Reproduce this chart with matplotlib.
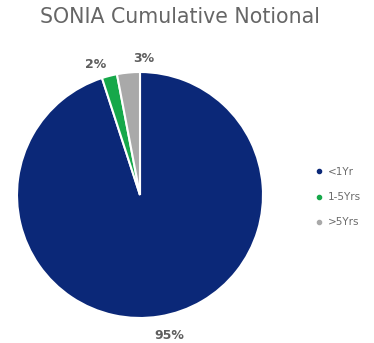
import matplotlib.pyplot as plt
from matplotlib.lines import Line2D

# ------------------------
# Data
# ------------------------
labels = ["<1Yr", "1-5Yrs", ">5Yrs"]
shares = [95, 2, 3]
colors = ["#0b2878", "#16a84a", "#a9a9a9"]

# ------------------------
# Plot
# ------------------------
fig = plt.figure(figsize=(3.74, 3.43), dpi=100)
ax = fig.add_axes([17 / 374, (343 - 195 - 123) / 343, 246 / 374, 246 / 343])

wedges, texts = ax.pie(
    shares,
    colors=colors,
    startangle=90,
    counterclock=False,
    radius=1.0,
    wedgeprops={"edgecolor": "white", "linewidth": 1.5},
)
ax.set_xlim(-1, 1)
ax.set_ylim(-1, 1)
ax.set_aspect("auto")

# percentage labels outside the slices
label_pos = [(0.24, -1.14), (-0.36, 1.06), (0.03, 1.11)]
for (x, y), s in zip(label_pos, shares):
    ax.text(x, y, f"{s}%", ha="center", va="center", fontsize=9,
            fontweight="bold", color="#5e5e5e", clip_on=False)

fig.text(0.48, 0.95, "SONIA Cumulative Notional", ha="center", va="center",
         fontsize=14.8, color="#666666")

# legend with small round bullets
handles = [Line2D([], [], linestyle="none", marker="o", markersize=3,
                  markerfacecolor=c, markeredgecolor=c) for c in colors]
leg = fig.legend(
    handles, labels,
    loc="center left", bbox_to_anchor=(0.82, 0.425),
    frameon=False, fontsize=7.5, handlelength=0.5,
    handletextpad=0.6, labelspacing=1.45, labelcolor="#6b6b6b",
)

plt.savefig("out.png", dpi=100)
